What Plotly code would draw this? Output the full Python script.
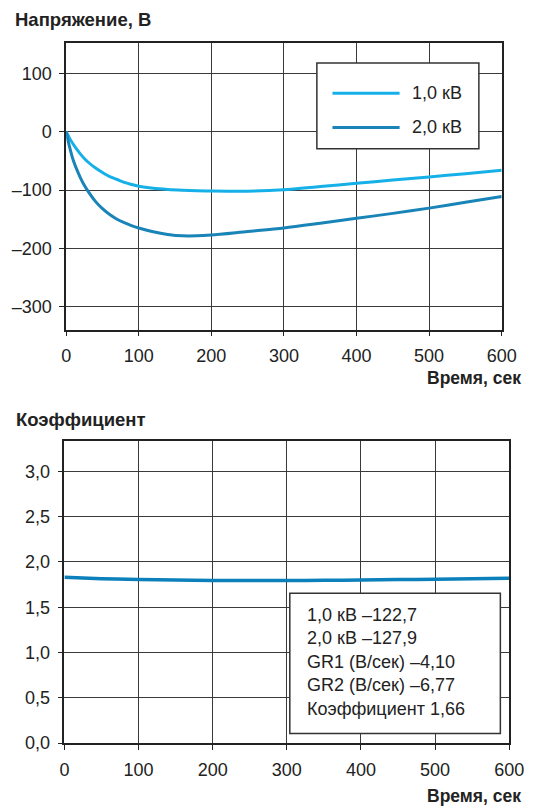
import plotly.graph_objects as go

W, H = 543, 810

# ---- data ----
time_s = [0, 5, 10, 15, 20, 25, 30, 40, 50, 60, 70, 80, 90, 100, 120, 140, 160,
          180, 200, 250, 300, 350, 400, 450, 500, 550, 600]
v_1kv = [0, -12, -22, -31, -39, -46, -52, -62, -70, -77, -82, -87, -90.5, -93.5, -97,
         -99, -100.3, -101.2, -101.7, -102, -99.5, -94, -88.5, -83, -77.5, -72, -66]
v_2kv = [0, -28, -50, -66, -80, -92, -102, -119, -132, -142, -150, -156, -161, -165,
         -171.5, -176, -178.5, -178.5, -177, -171, -165, -157, -148.5, -140, -131, -121, -111]

coef_time = [0, 50, 100, 150, 200, 250, 300, 350, 400, 450, 500, 550, 600]
coef_vals = [1.83, 1.815, 1.805, 1.80, 1.795, 1.795, 1.795, 1.797, 1.80, 1.805,
             1.81, 1.815, 1.82]

series_names = ["1,0 кВ", "2,0 кВ"]
series_colors = ["#16b0e8", "#1984b8"]
coef_color = "#0b80ba"

x_ticks = [0, 100, 200, 300, 400, 500, 600]
top_y_ticks = [100, 0, -100, -200, -300]
top_y_labels = ["100", "0", "–100", "–200", "–300"]
bot_y_ticks = [0.0, 0.5, 1.0, 1.5, 2.0, 2.5, 3.0]
bot_y_labels = ["0,0", "0,5", "1,0", "1,5", "2,0", "2,5", "3,0"]

info_lines = ["1,0 кВ –122,7", "2,0 кВ –127,9", "GR1 (В/сек) –4,10",
              "GR2 (В/сек) –6,77", "Коэффициент 1,66"]

FONT = "Liberation Sans, Arial, sans-serif"
TXT = "#222222"

def px(x):
    return x / W

def py(y):
    return 1 - y / H

fig = go.Figure()

for name, vals, col in zip(series_names, [v_1kv, v_2kv], series_colors):
    fig.add_trace(go.Scatter(x=time_s, y=vals, mode="lines", name=name,
                             line=dict(color=col, width=3, shape="spline", smoothing=0.8),
                             showlegend=False, xaxis="x", yaxis="y"))

fig.add_trace(go.Scatter(x=coef_time, y=coef_vals, mode="lines", name="Коэффициент",
                         line=dict(color=coef_color, width=3.5, shape="spline"),
                         showlegend=False, xaxis="x2", yaxis="y2"))

axis_common = dict(showline=True, linecolor="#222", linewidth=1.5, mirror=True,
                   showgrid=True, gridcolor="#3a3a3a", gridwidth=1, zeroline=False,
                   ticks="outside", ticklen=5, tickcolor="#222", tickwidth=1,
                   tickfont=dict(family=FONT, size=18, color=TXT))

fig.update_layout(
    width=W, height=H, margin=dict(l=0, r=0, t=0, b=0),
    paper_bgcolor="white", plot_bgcolor="white",
    xaxis=dict(domain=[px(63.5), px(515.7)], range=[0, 600], tickvals=x_ticks,
               anchor="y", ticklabelstandoff=4, **axis_common),
    yaxis=dict(domain=[py(333.7), py(44)], range=[-339, 151], tickvals=top_y_ticks,
               ticktext=top_y_labels, anchor="x", ticklabelstandoff=4, **axis_common),
    xaxis2=dict(domain=[px(61.7), px(523.5)], range=[0, 600], tickvals=x_ticks,
                anchor="y2", ticklabelstandoff=5, **axis_common),
    yaxis2=dict(domain=[py(752.3), py(446.7)], range=[0, 3.334], tickvals=bot_y_ticks,
                ticktext=bot_y_labels, anchor="x2", ticklabelstandoff=4, **axis_common),
)

shapes = []
annotations = []

TITLE_SIZE = 18.5
AXIS_TITLE_SIZE = 17.5

# titles
annotations.append(dict(text="<b>Напряжение, В</b>", x=px(8), y=py(20), xref="paper", yref="paper",
                        xanchor="left", yanchor="middle", showarrow=False,
                        font=dict(family=FONT, size=TITLE_SIZE, color=TXT)))
annotations.append(dict(text="<b>Коэффициент</b>", x=px(9), y=py(425), xref="paper", yref="paper",
                        xanchor="left", yanchor="middle", showarrow=False,
                        font=dict(family=FONT, size=TITLE_SIZE, color=TXT)))
annotations.append(dict(text="<b>Время, сек</b>", x=px(538), y=py(383), xref="paper", yref="paper",
                        xanchor="right", yanchor="middle", showarrow=False,
                        font=dict(family=FONT, size=AXIS_TITLE_SIZE, color=TXT)))
annotations.append(dict(text="<b>Время, сек</b>", x=px(538), y=py(806), xref="paper", yref="paper",
                        xanchor="right", yanchor="middle", showarrow=False,
                        font=dict(family=FONT, size=AXIS_TITLE_SIZE, color=TXT)))

# legend box (top chart)
shapes.append(dict(type="rect", xref="paper", yref="paper", x0=px(323.8), x1=px(492),
                   y0=py(150.7), y1=py(63.7), line=dict(color="#333", width=1.5),
                   fillcolor="white", layer="above"))
for i, (name, col) in enumerate(zip(series_names, series_colors)):
    yy = 94.3 + i * 34.7
    shapes.append(dict(type="line", xref="paper", yref="paper", x0=px(340), x1=px(409.7),
                       y0=py(yy), y1=py(yy), line=dict(color=col, width=3), layer="above"))
    annotations.append(dict(text=name, x=px(421), y=py(yy), xref="paper", yref="paper",
                            xanchor="left", yanchor="middle", showarrow=False,
                            font=dict(family=FONT, size=18, color=TXT)))

# info box (bottom chart)
shapes.append(dict(type="rect", xref="paper", yref="paper", x0=px(295.7), x1=px(514.3),
                   y0=py(742.7), y1=py(600.7), line=dict(color="#333", width=1.5),
                   fillcolor="white", layer="above"))
annotations.append(dict(text="<br>".join(info_lines), x=px(311), y=py(611), xref="paper",
                        yref="paper", xanchor="left", yanchor="top", align="left",
                        showarrow=False, font=dict(family=FONT, size=18, color=TXT)))

fig.update_layout(shapes=shapes, annotations=annotations)

fig.write_html("out.html")
